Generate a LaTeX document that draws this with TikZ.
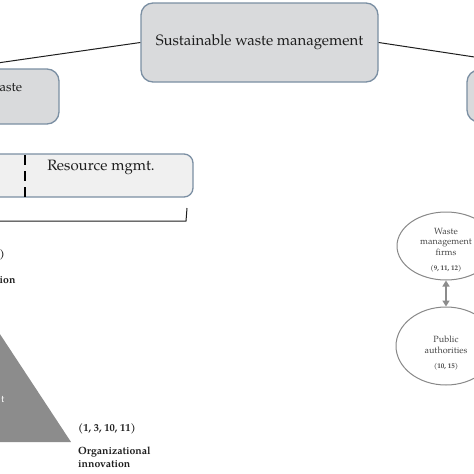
\documentclass[tikz,border=0pt]{standalone}
\usepackage{fontspec}
\setmainfont{texgyrepagella}[Extension=.otf, UprightFont=*-regular, BoldFont=*-bold, ItalicFont=*-italic, BoldItalicFont=*-bolditalic]
\usetikzlibrary{shapes.geometric,arrows.meta}
\definecolor{boxfill}{HTML}{D9DADC}
\definecolor{boxline}{HTML}{7B8FA3}
\definecolor{resfill}{HTML}{F0F0F0}
\definecolor{trifill}{HTML}{8C8C8C}
\definecolor{ellline}{HTML}{888888}
\definecolor{elltext}{HTML}{474747}
\definecolor{txtcol}{HTML}{1E1E1E}
\newcommand{\numtxtfont}{\bfseries\fontsize{7}{8}\selectfont}
\tikzset{
  mainbox/.style={draw=boxline, fill=boxfill, line width=1.3pt, rounded corners=12pt, inner sep=0pt},
  resbox/.style={draw=boxline, fill=resfill, line width=1.3pt, rounded corners=9pt, inner sep=0pt},
  conn/.style={draw=txtcol, line width=1pt},
  bigtxt/.style={text=txtcol, inner sep=0pt, font=\fontsize{15}{18}\selectfont},
  boldtxt/.style={text=txtcol, inner sep=0pt, font=\bfseries\fontsize{10.5}{12.5}\selectfont, align=left},
  ell/.style={ellipse, draw=ellline, line width=1pt, fill=white, inner sep=0pt},
  elltxt/.style={text=elltext, inner sep=0pt, align=center, font=\fontsize{9}{10.8}\selectfont},
  dblarrow/.style={draw=trifill, line width=2.6pt, {Triangle[width=7pt,length=6pt]}-{Triangle[width=7pt,length=6pt]}}
}
\begin{document}
\begin{tikzpicture}[x=1pt,y=-1pt]
\useasboundingbox (0,0) rectangle (474,474);
\clip (0,0) rectangle (474,474);
\fill[white] (0,0) rectangle (474,474);

% top level boxes
\node[mainbox, minimum width=237pt, minimum height=79pt, bigtxt] (main) at (259.5,42.5) {Sustainable waste management};
\node[mainbox, minimum width=198pt, minimum height=55pt] (lbox) at (-40,96.5) {};
\node[bigtxt, font=\fontsize{13}{15}\selectfont, anchor=west] (lboxt) at (-0.5,88) {aste};
\node[mainbox, minimum width=178pt, minimum height=52pt] (rbox) at (556,96) {};
\draw[conn] (main.west) -- (lbox.north);
\draw[conn] (main.east) -- (rbox.north);

% resource box
\node[resbox, minimum width=343pt, minimum height=43pt] (res) at (21.5,175.5) {};
\node[bigtxt] (rest) at (101,167) {Resource mgmt.};
\draw[black, line width=2pt, dash pattern=on 10pt off 6pt] (25,155) -- (25,197);

% bracket
\draw[draw=txtcol, line width=1pt] (-150,221) -- (186,221) -- (187,208);

% left labels (cut at the left edge)
\node[boldtxt, anchor=west] (lab1) at (-0.5,255) {)};
\node[boldtxt, anchor=west] (lab2) at (-0.5,280) {ion};

% triangle
\fill[trifill] (-60,243) -- (71,442) -- (-191,442) -- cycle;
\node[text=white, inner sep=0pt, font=\fontsize{10}{12}\selectfont, anchor=west] (trit) at (1,399) {t};

% organizational innovation
\node[boldtxt, anchor=west] (orgnum) at (78,429) {(1, 3, 10, 11)};
\node[boldtxt, anchor=north west] (org) at (78,447) {Organizational\\innovation};

% ellipses
\node[ell, minimum width=98pt, minimum height=68pt] (wmf) at (446,246) {};
\node[elltxt] (wmft) at (446,250) {Waste\\management\\firms\\[4pt]{\numtxtfont (9, 11, 12)}};
\node[ell, minimum width=100pt, minimum height=78pt] (pa) at (446,346) {};
\node[elltxt] (pat) at (446,353) {Public\\authorities\\[4pt]{\numtxtfont (10, 15)}};
\draw[dblarrow] (wmf.south) -- (pa.north);
\end{tikzpicture}
\end{document}
